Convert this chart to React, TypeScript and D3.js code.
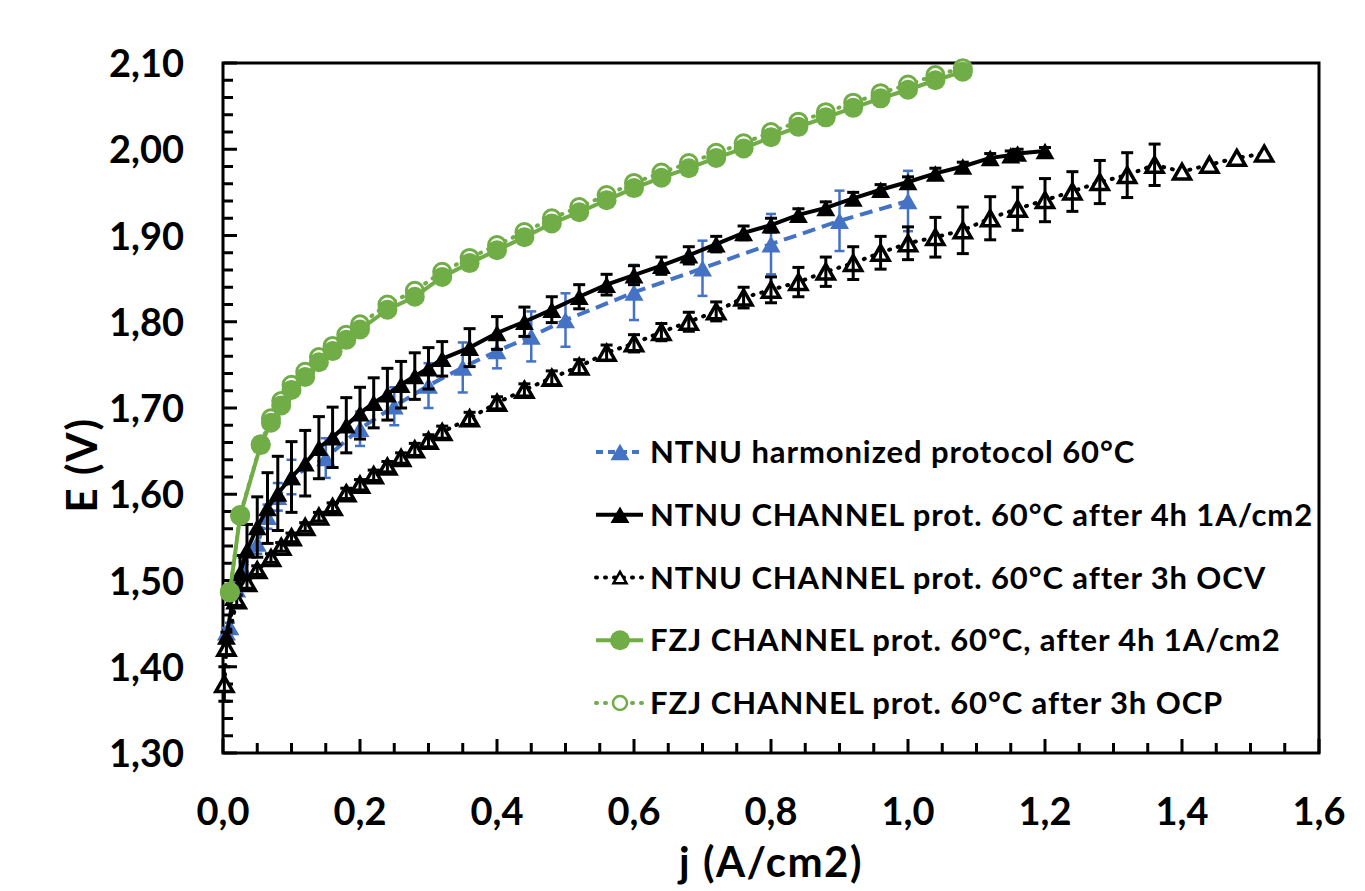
import React, { useEffect, useRef } from "react";
import * as d3 from "d3";

// NTNU harmonized protocol 60°C (blue, dashed)
const jBlue = [0.005, 0.01, 0.02, 0.03, 0.05, 0.065, 0.08, 0.1, 0.15, 0.2, 0.25, 0.3, 0.35, 0.4, 0.45, 0.5, 0.6, 0.7, 0.8, 0.9, 1.0];
const eBlue = [1.44, 1.446, 1.49, 1.512, 1.543, 1.574, 1.597, 1.62, 1.642, 1.676, 1.702, 1.726, 1.747, 1.766, 1.783, 1.802, 1.834, 1.862, 1.89, 1.917, 1.94];
const errBlue = [0.005, 0.005, 0.008, 0.01, 0.012, 0.014, 0.016, 0.02, 0.023, 0.02, 0.022, 0.026, 0.029, 0.02, 0.029, 0.031, 0.032, 0.032, 0.035, 0.035, 0.035];

// NTNU CHANNEL prot. 60°C after 4h 1A/cm2 (black, filled)
const jBlk = [0.005, 0.015, 0.025, 0.035, 0.05, 0.065, 0.08, 0.1, 0.12, 0.14, 0.16, 0.18, 0.2, 0.22, 0.24, 0.26, 0.28, 0.3, 0.32, 0.36, 0.4, 0.44, 0.48, 0.52, 0.56, 0.6, 0.64, 0.68, 0.72, 0.76, 0.8, 0.84, 0.88, 0.92, 0.96, 1.0, 1.04, 1.08, 1.12, 1.15, 1.16, 1.2];
const eBlk = [1.435, 1.48, 1.509, 1.535, 1.562, 1.584, 1.601, 1.62, 1.636, 1.654, 1.666, 1.68, 1.694, 1.706, 1.716, 1.727, 1.737, 1.746, 1.757, 1.77, 1.787, 1.8, 1.814, 1.829, 1.843, 1.854, 1.865, 1.877, 1.89, 1.903, 1.912, 1.924, 1.932, 1.943, 1.953, 1.962, 1.972, 1.98, 1.99, 1.993, 1.995, 1.998];
const errBlk = [0.005, 0.01, 0.02, 0.03, 0.035, 0.041, 0.043, 0.041, 0.038, 0.036, 0.035, 0.032, 0.03, 0.029, 0.03, 0.027, 0.027, 0.024, 0.02, 0.022, 0.019, 0.017, 0.015, 0.014, 0.012, 0.011, 0.01, 0.01, 0.009, 0.008, 0.008, 0.007, 0.007, 0.007, 0.006, 0.006, 0.006, 0.005, 0.005, 0.005, 0.005, 0.004];

// NTNU CHANNEL prot. 60°C after 3h OCV (black, open)
const jOcv = [0.002, 0.005, 0.02, 0.035, 0.05, 0.07, 0.085, 0.1, 0.12, 0.14, 0.16, 0.18, 0.2, 0.22, 0.24, 0.26, 0.28, 0.3, 0.32, 0.36, 0.4, 0.44, 0.48, 0.52, 0.56, 0.6, 0.64, 0.68, 0.72, 0.76, 0.8, 0.84, 0.88, 0.92, 0.96, 1.0, 1.04, 1.08, 1.12, 1.16, 1.2, 1.24, 1.28, 1.32, 1.36, 1.4, 1.44, 1.48, 1.52];
const eOcv = [1.38, 1.422, 1.477, 1.497, 1.512, 1.526, 1.539, 1.55, 1.562, 1.574, 1.585, 1.601, 1.611, 1.622, 1.632, 1.642, 1.652, 1.662, 1.672, 1.688, 1.706, 1.721, 1.735, 1.748, 1.764, 1.775, 1.788, 1.8, 1.812, 1.828, 1.837, 1.846, 1.858, 1.868, 1.88, 1.891, 1.898, 1.906, 1.92, 1.931, 1.941, 1.951, 1.962, 1.97, 1.982, 1.974, 1.982, 1.99, 1.995];
const errOcv = [0.02, 0.008, 0.006, 0.006, 0.005, 0.005, 0.005, 0.005, 0.005, 0.005, 0.005, 0.006, 0.006, 0.006, 0.006, 0.006, 0.007, 0.007, 0.007, 0.007, 0.007, 0.007, 0.008, 0.008, 0.009, 0.01, 0.01, 0.011, 0.011, 0.012, 0.015, 0.017, 0.017, 0.019, 0.019, 0.019, 0.023, 0.027, 0.025, 0.025, 0.025, 0.023, 0.025, 0.026, 0.024, 0, 0, 0, 0];

// FZJ CHANNEL prot. 60°C (green): after 4h 1A/cm2 (filled) and after 3h OCP (open)
const jFzj = [0.01, 0.025, 0.055, 0.07, 0.085, 0.1, 0.12, 0.14, 0.16, 0.18, 0.2, 0.24, 0.28, 0.32, 0.36, 0.4, 0.44, 0.48, 0.52, 0.56, 0.6, 0.64, 0.68, 0.72, 0.76, 0.8, 0.84, 0.88, 0.92, 0.96, 1.0, 1.04, 1.08];
const eFzj = [1.486, 1.575, 1.657, 1.683, 1.703, 1.721, 1.736, 1.753, 1.766, 1.779, 1.791, 1.814, 1.829, 1.852, 1.868, 1.883, 1.898, 1.914, 1.927, 1.941, 1.955, 1.967, 1.978, 1.99, 2.001, 2.014, 2.026, 2.037, 2.048, 2.059, 2.069, 2.08, 2.09];
const eOcp = [1.487, 1.576, 1.658, 1.688, 1.708, 1.727, 1.742, 1.759, 1.772, 1.785, 1.797, 1.82, 1.836, 1.858, 1.874, 1.889, 1.904, 1.92, 1.933, 1.947, 1.961, 1.973, 1.984, 1.996, 2.007, 2.02, 2.032, 2.043, 2.054, 2.065, 2.075, 2.086, 2.094];

const legendLabels = [
  "NTNU harmonized protocol 60°C",
  "NTNU CHANNEL prot. 60°C after 4h 1A/cm2",
  "NTNU CHANNEL prot. 60°C after 3h OCV",
  "FZJ CHANNEL prot. 60°C, after 4h 1A/cm2",
  "FZJ CHANNEL prot. 60°C after 3h OCP",
];

const BLUE = "#4472C4";
const GREEN = "#70AD47";
const FONT = "Lato, 'Open Sans', sans-serif";

const App = () => {
  const svgRef = useRef(null);

  useEffect(() => {
    const svg = d3.select(svgRef.current);
    svg.selectAll("*").remove();

    const x = d3.scaleLinear().domain([0, 1.6]).range([223, 1319]);
    const y = d3.scaleLinear().domain([1.3, 2.1]).range([753, 63]);

    const locale = d3.formatLocale({ decimal: ",", thousands: ".", grouping: [3], currency: ["", ""] });
    const fy = locale.format(".2f");
    const fx = locale.format(".1f");

    // ejes: ticks hacia dentro
    const axes = svg.append("g");
    y.ticks(40).forEach((t) => {
      const major = Math.abs(t * 10 - Math.round(t * 10)) < 1e-6;
      axes.append("line")
        .attr("x1", x(0)).attr("x2", x(0) + (major ? 14 : 10))
        .attr("y1", y(t)).attr("y2", y(t))
        .attr("stroke", "#000").attr("stroke-width", 3);
    });
    x.ticks(40).forEach((t) => {
      const major = Math.abs(t * 5 - Math.round(t * 5)) < 1e-6;
      axes.append("line")
        .attr("x1", x(t)).attr("x2", x(t))
        .attr("y1", y(1.3)).attr("y2", y(1.3) - (major ? 14 : 10))
        .attr("stroke", "#000").attr("stroke-width", 3);
    });
    axes.append("rect")
      .attr("x", x(0)).attr("y", y(2.1))
      .attr("width", x(1.6) - x(0)).attr("height", y(1.3) - y(2.1))
      .attr("fill", "none").attr("stroke", "#000").attr("stroke-width", 3);

    axes.selectAll("text.yl").data(y.ticks(8)).enter().append("text")
      .attr("x", 184).attr("y", (d) => y(d) + 14)
      .attr("text-anchor", "end")
      .style("font", `bold 38px ${FONT}`)
      .text((d) => fy(d));
    axes.selectAll("text.xl").data(x.ticks(8)).enter().append("text")
      .attr("x", (d) => x(d)).attr("y", 825)
      .attr("text-anchor", "middle")
      .style("font", `bold 38px ${FONT}`)
      .text((d) => fx(d));

    svg.append("text")
      .attr("x", 771).attr("y", 877).attr("text-anchor", "middle")
      .style("font", `bold 42px ${FONT}`)
      .style("letter-spacing", "1.5px")
      .text("j (A/cm2)");
    svg.append("text")
      .attr("transform", "translate(97,465) rotate(-90)")
      .attr("text-anchor", "middle")
      .style("font", `bold 42px ${FONT}`)
      .style("letter-spacing", "1.5px")
      .text("E (V)");

    const tri = (w) => {
      const h = w * 0.87;
      return `M0,${-h / 2}L${w / 2},${h / 2}L${-w / 2},${h / 2}Z`;
    };

    const plot = svg.append("g");

    const drawSeries = ({ js, es, errs, color, dash, lineW, marker, open, cap, errW }) => {
      const pts = js.map((j, i) => ({ j, e: es[i], err: errs ? errs[i] : 0 }));
      const line = d3.line().x((d) => x(d.j)).y((d) => y(d.e));
      const g = plot.append("g");
      g.append("path")
        .attr("d", line(pts))
        .attr("fill", "none")
        .attr("stroke", color)
        .attr("stroke-width", lineW)
        .attr("stroke-dasharray", dash || null)
        .attr("stroke-linecap", dash && dash.startsWith("1 ") ? "round" : "butt");
      pts.forEach((d) => {
        const cx = x(d.j), cy = y(d.e);
        if (marker === "tri") {
          g.append("path")
            .attr("d", tri(open ? 17 : 19))
            .attr("transform", `translate(${cx},${cy})`)
            .attr("fill", open ? "#fff" : color)
            .attr("stroke", open ? color : "none")
            .attr("stroke-width", open ? 3.5 : 0)
            .attr("stroke-linejoin", "miter");
        } else {
          g.append("circle")
            .attr("cx", cx).attr("cy", cy)
            .attr("r", open ? 8.5 : 10)
            .attr("fill", open ? "#fff" : color)
            .attr("stroke", open ? color : "none")
            .attr("stroke-width", open ? 3 : 0);
        }
      });
      if (errs) {
        pts.filter((d) => d.err > 0).forEach((d) => {
          const cx = x(d.j), y0 = y(d.e - d.err), y1 = y(d.e + d.err);
          g.append("line").attr("x1", cx).attr("x2", cx).attr("y1", y0).attr("y2", y1)
            .attr("stroke", color).attr("stroke-width", errW);
          [y0, y1].forEach((yy) => {
            g.append("line").attr("x1", cx - cap / 2).attr("x2", cx + cap / 2).attr("y1", yy).attr("y2", yy)
              .attr("stroke", color).attr("stroke-width", errW);
          });
        });
      }
    };

    drawSeries({ js: jBlue, es: eBlue, errs: errBlue, color: BLUE, dash: "13 7", lineW: 4, marker: "tri", open: false, cap: 10, errW: 2.5 });
    drawSeries({ js: jBlk, es: eBlk, errs: errBlk, color: "#000", dash: null, lineW: 4, marker: "tri", open: false, cap: 12, errW: 3 });
    drawSeries({ js: jOcv, es: eOcv, errs: errOcv, color: "#000", dash: "1 8", lineW: 4, marker: "tri", open: true, cap: 12, errW: 3 });
    drawSeries({ js: jFzj, es: eOcp, errs: null, color: GREEN, dash: "1 8", lineW: 4, marker: "circ", open: true });
    drawSeries({ js: jFzj, es: eFzj, errs: null, color: GREEN, dash: null, lineW: 4, marker: "circ", open: false });

    // leyenda
    const legendStyles = [
      { color: BLUE, dash: "13 7", marker: "tri", open: false },
      { color: "#000", dash: null, marker: "tri", open: false },
      { color: "#000", dash: "1 8", marker: "tri", open: true },
      { color: GREEN, dash: null, marker: "circ", open: false },
      { color: GREEN, dash: "1 8", marker: "circ", open: true },
    ];
    const leg = svg.append("g");
    const rowY = d3.scaleLinear().domain([0, 4]).range([452, 703]);
    legendLabels.forEach((label, i) => {
      const s = legendStyles[i];
      const cy = rowY(i);
      leg.append("line")
        .attr("x1", 596).attr("x2", 643).attr("y1", cy).attr("y2", cy)
        .attr("stroke", s.color).attr("stroke-width", 4)
        .attr("stroke-dasharray", s.dash === "13 7" ? "7 5" : s.dash)
        .attr("stroke-linecap", s.dash === "1 8" ? "round" : "butt");
      if (s.marker === "tri") {
        leg.append("path")
          .attr("d", tri(s.open ? 13 : 19))
          .attr("transform", `translate(620,${cy})`)
          .attr("fill", s.open ? "#fff" : s.color)
          .attr("stroke", s.open ? s.color : "none")
          .attr("stroke-width", s.open ? 2.5 : 0);
      } else {
        leg.append("circle")
          .attr("cx", 620).attr("cy", cy).attr("r", s.open ? 7 : 10)
          .attr("fill", s.open ? "#fff" : s.color)
          .attr("stroke", s.open ? s.color : "none")
          .attr("stroke-width", s.open ? 2.5 : 0);
      }
      leg.append("text")
        .attr("x", 650).attr("y", cy + 11)
        .style("font", `bold 31px ${FONT}`)
        .style("letter-spacing", "0.9px")
        .text(label);
    });
  }, []);

  return (
    <svg
      ref={svgRef}
      width={1365}
      height={891}
      style={{ position: "absolute", left: 0, top: 0, background: "#fff" }}
    />
  );
};

export default App;
